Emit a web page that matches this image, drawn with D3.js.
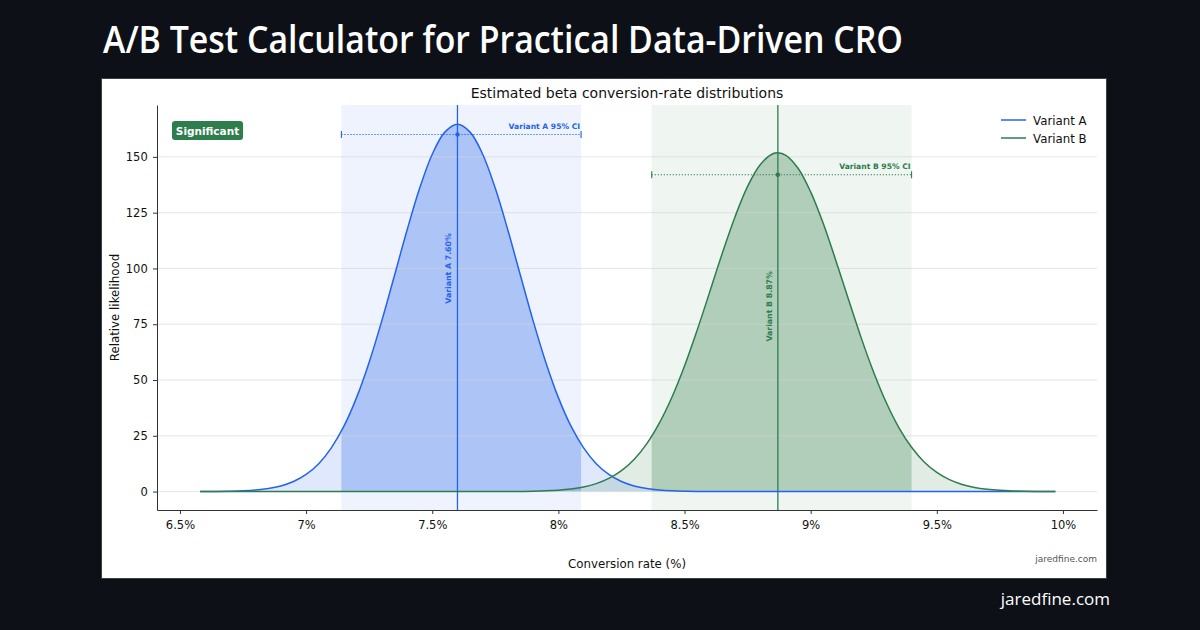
<!DOCTYPE html>
<html>
<head>
<meta charset="utf-8">
<script src="https://cdn.jsdelivr.net/npm/d3@7"></script>
<style>
  html, body { margin: 0; padding: 0; background: #0d1117; }
  svg { display: block; }
</style>
</head>
<body>
<svg id="chart" width="1200" height="630"></svg>
<script>
// ---------- data ----------
const pageTitle = "A/B Test Calculator for Practical Data-Driven CRO";
const chartTitle = "Estimated beta conversion-rate distributions";
const seriesNames = ["Variant A", "Variant B"];
const xTicks = [6.5, 7, 7.5, 8, 8.5, 9, 9.5, 10];
const xTickLabels = ["6.5%", "7%", "7.5%", "8%", "8.5%", "9%", "9.5%", "10%"];
const yTicks = [0, 25, 50, 75, 100, 125, 150];

// conversion rate grid (%)
const rates = [6.58,
  6.60, 6.65, 6.70, 6.75, 6.80, 6.85, 6.90, 6.95, 7.00, 7.05,
  7.10, 7.15, 7.20, 7.25, 7.30, 7.35, 7.40, 7.45, 7.50, 7.55,
  7.60, 7.65, 7.70, 7.75, 7.80, 7.85, 7.90, 7.95, 8.00, 8.05,
  8.10, 8.15, 8.20, 8.25, 8.30, 8.35, 8.40, 8.45, 8.50, 8.55,
  8.60, 8.65, 8.70, 8.75, 8.80, 8.85, 8.87, 8.90, 8.95, 9.00, 9.05,
  9.10, 9.15, 9.20, 9.25, 9.30, 9.35, 9.40, 9.45, 9.50, 9.55,
  9.60, 9.65, 9.70, 9.75, 9.80, 9.85, 9.90, 9.95,
  9.97];

const densityA = [0.02,
  0.03, 0.08, 0.17, 0.35, 0.71, 1.37, 2.54, 4.50, 7.67, 12.5,
  19.6, 29.3, 42.1, 58.0, 76.5, 96.7, 117.1, 135.9, 151.2, 161.1,
  164.6, 161.1, 151.2, 135.9, 117.1, 96.7, 76.5, 58.0, 42.1, 29.3,
  19.6, 12.5, 7.67, 4.50, 2.54, 1.37, 0.71, 0.35, 0.17, 0.08,
  0.03, 0.01, 0.01, 0, 0, 0, 0, 0, 0, 0, 0,
  0, 0, 0, 0, 0, 0, 0, 0, 0, 0,
  0, 0, 0, 0, 0, 0, 0, 0,
  0];

const densityB = [0,
  0, 0, 0, 0, 0, 0, 0, 0, 0, 0,
  0, 0, 0, 0, 0, 0, 0, 0, 0, 0,
  0, 0, 0.01, 0.02, 0.04, 0.08, 0.17, 0.33, 0.63, 1.17,
  2.08, 3.56, 5.89, 9.39, 14.4, 21.4, 30.7, 42.3, 56.3, 72.3,
  89.5, 106.9, 123.1, 136.8, 146.5, 151.4, 151.8, 150.8, 144.9, 134.3, 120.1,
  103.5, 86.1, 69.0, 53.4, 39.8, 28.6, 19.9, 13.3, 8.58, 5.34,
  3.21, 1.85, 1.04, 0.56, 0.29, 0.15, 0.07, 0.03,
  0.02];

const means = [7.60, 8.87];
const ciLow = [7.14, 8.37];
const ciHigh = [8.09, 9.40];
const ciBarLevel = [160, 142];
const meanLabelLevel = [100, 83];
const badgeText = "Significant";
const watermark = "jaredfine.com";

// ---------- styles ----------
const colors = ["#2563eb", "#2e7d4c"];
const FONT = "DejaVu Sans, Verdana, sans-serif";

const svg = d3.select("#chart");
svg.append("rect").attr("width", 1200).attr("height", 630).attr("fill", "#0d1117");

// page title
svg.append("text")
  .attr("x", 103).attr("y", 53)
  .attr("fill", "#ffffff")
  .attr("font-family", "Open Sans, Noto Sans, sans-serif")
  .attr("font-weight", 600)
  .attr("font-size", 37)
  .attr("textLength", 800).attr("lengthAdjust", "spacingAndGlyphs")
  .text(pageTitle);

// card
svg.append("rect")
  .attr("x", 101.5).attr("y", 78.5).attr("width", 1005).attr("height", 500)
  .attr("fill", "#ffffff").attr("stroke", "#3c3f44").attr("stroke-width", 1);

// footer
svg.append("text")
  .attr("x", 1110).attr("y", 605)
  .attr("text-anchor", "end")
  .attr("fill", "#ffffff")
  .attr("font-family", "Open Sans, Noto Sans, sans-serif")
  .attr("font-size", 17)
  .text(watermark);

// ---------- axes ----------
const plot = { left: 157, right: 1097, top: 105, bottom: 510 };
const x = d3.scaleLinear().domain([6.409, 10.135]).range([plot.left, plot.right]);
const y = d3.scaleLinear().domain([-8.25, 173.25]).range([plot.bottom, plot.top]);

const clipId = "plotclip";
const defs = svg.append("defs");
defs.append("clipPath").attr("id", clipId)
  .append("rect").attr("x", plot.left).attr("y", plot.top)
  .attr("width", plot.right - plot.left).attr("height", plot.bottom - plot.top);

const g = svg.append("g").attr("clip-path", `url(#${clipId})`);

// CI bands
seriesNames.forEach((name, i) => {
  g.append("rect")
    .attr("x", x(ciLow[i])).attr("y", plot.top)
    .attr("width", x(ciHigh[i]) - x(ciLow[i]))
    .attr("height", plot.bottom - plot.top)
    .attr("fill", colors[i]).attr("fill-opacity", 0.08);
  defs.append("clipPath").attr("id", "ci" + i)
    .append("rect").attr("x", x(ciLow[i])).attr("y", plot.top)
    .attr("width", x(ciHigh[i]) - x(ciLow[i]))
    .attr("height", plot.bottom - plot.top);
});

const densities = [densityA, densityB];
const area = d3.area().x(d => x(d[0])).y0(y(0)).y1(d => y(d[1])).curve(d3.curveCatmullRom.alpha(0.5));
const line = d3.line().x(d => x(d[0])).y(d => y(d[1])).curve(d3.curveCatmullRom.alpha(0.5));

// fills
densities.forEach((dens, i) => {
  const pts = rates.map((r, k) => [r, dens[k]]);
  g.append("path").attr("d", area(pts))
    .attr("fill", colors[i]).attr("fill-opacity", 0.15);
  g.append("path").attr("d", area(pts))
    .attr("clip-path", `url(#ci${i})`)
    .attr("fill", colors[i]).attr("fill-opacity", 0.2);
});

// grid on top of fills
const grid = g.append("g");
yTicks.forEach(t => {
  grid.append("line")
    .attr("x1", plot.left).attr("x2", plot.right)
    .attr("y1", y(t)).attr("y2", y(t))
    .attr("stroke", "#d4d4d4").attr("stroke-opacity", 0.6).attr("stroke-width", 1);
});

// mean lines
means.forEach((m, i) => {
  g.append("line")
    .attr("x1", x(m)).attr("x2", x(m))
    .attr("y1", plot.top).attr("y2", plot.bottom)
    .attr("stroke", colors[i]).attr("stroke-width", 1.3);
});

// density lines
densities.forEach((dens, i) => {
  const pts = rates.map((r, k) => [r, dens[k]]);
  g.append("path").attr("d", line(pts))
    .attr("fill", "none").attr("stroke", colors[i]).attr("stroke-width", 1.5);
});

// CI error bars
seriesNames.forEach((name, i) => {
  const yy = y(ciBarLevel[i]);
  g.append("line")
    .attr("x1", x(ciLow[i])).attr("x2", x(ciHigh[i]))
    .attr("y1", yy).attr("y2", yy)
    .attr("stroke", colors[i]).attr("stroke-width", 1.1)
    .attr("stroke-dasharray", "1.2,1.8");
  [ciLow[i], ciHigh[i]].forEach(v => {
    g.append("line")
      .attr("x1", x(v)).attr("x2", x(v))
      .attr("y1", yy - 3.5).attr("y2", yy + 3.5)
      .attr("stroke", colors[i]).attr("stroke-width", 1.1);
  });
  g.append("circle").attr("cx", x(means[i])).attr("cy", yy).attr("r", 2.2)
    .attr("fill", colors[i]);
  g.append("text")
    .attr("x", x(ciHigh[i]) - 1).attr("y", yy - 6)
    .attr("text-anchor", "end")
    .attr("font-family", FONT).attr("font-size", 7.6).attr("font-weight", "bold")
    .attr("fill", colors[i])
    .text(name + " 95% CI");
  // rotated mean label
  const lx = x(means[i]) - 6, ly = y(meanLabelLevel[i]);
  g.append("text")
    .attr("transform", `translate(${lx},${ly}) rotate(-90)`)
    .attr("text-anchor", "middle")
    .attr("font-family", FONT).attr("font-size", 7.8).attr("font-weight", "bold")
    .attr("fill", colors[i])
    .text(`${name} ${means[i].toFixed(2)}%`);
});

// axes
const xAxis = svg.append("g").attr("transform", `translate(0,${plot.bottom})`)
  .call(d3.axisBottom(x).tickValues(xTicks).tickFormat((d, k) => xTickLabels[k]).tickSize(4).tickSizeOuter(0));
const yAxis = svg.append("g").attr("transform", `translate(${plot.left},0)`)
  .call(d3.axisLeft(y).tickValues(yTicks).tickSize(4).tickSizeOuter(0));
[xAxis, yAxis].forEach(a => {
  a.select(".domain").attr("stroke", "#333").attr("stroke-width", 1);
  a.selectAll(".tick line").attr("stroke", "#333");
  a.selectAll(".tick text").attr("font-family", FONT).attr("font-size", 11.5).attr("fill", "#111");
});
xAxis.selectAll(".tick text").attr("dy", "1.05em");
yAxis.selectAll(".tick text").attr("dx", "-0.2em");

// titles
svg.append("text")
  .attr("x", (plot.left + plot.right) / 2).attr("y", 98)
  .attr("text-anchor", "middle")
  .attr("font-family", FONT).attr("font-size", 14).attr("fill", "#111")
  .text(chartTitle);
svg.append("text")
  .attr("x", (plot.left + plot.right) / 2).attr("y", 568)
  .attr("text-anchor", "middle")
  .attr("font-family", FONT).attr("font-size", 11.8).attr("fill", "#111")
  .text("Conversion rate (%)");
svg.append("text")
  .attr("transform", `translate(119,${(plot.top + plot.bottom) / 2}) rotate(-90)`)
  .attr("text-anchor", "middle")
  .attr("font-family", FONT).attr("font-size", 11.8).attr("fill", "#111")
  .text("Relative likelihood");

// watermark inside card
svg.append("text")
  .attr("x", 1097).attr("y", 562)
  .attr("text-anchor", "end")
  .attr("font-family", FONT).attr("font-size", 9).attr("fill", "#555")
  .text(watermark);

// badge
const badge = svg.append("g");
badge.append("rect").attr("x", 172).attr("y", 121).attr("width", 71).attr("height", 19)
  .attr("rx", 3).attr("fill", colors[1]);
badge.append("text").attr("x", 207.5).attr("y", 134.5)
  .attr("text-anchor", "middle")
  .attr("font-family", FONT).attr("font-size", 10.5).attr("font-weight", "bold").attr("fill", "#fff")
  .text(badgeText);

// legend
seriesNames.forEach((name, i) => {
  const ly = 120 + i * 18;
  svg.append("line").attr("x1", 1001).attr("x2", 1026).attr("y1", ly).attr("y2", ly)
    .attr("stroke", colors[i]).attr("stroke-width", 1.5);
  svg.append("text").attr("x", 1033).attr("y", ly + 4.5)
    .attr("font-family", FONT).attr("font-size", 11.8).attr("fill", "#111")
    .text(name);
});
</script>
</body>
</html>
